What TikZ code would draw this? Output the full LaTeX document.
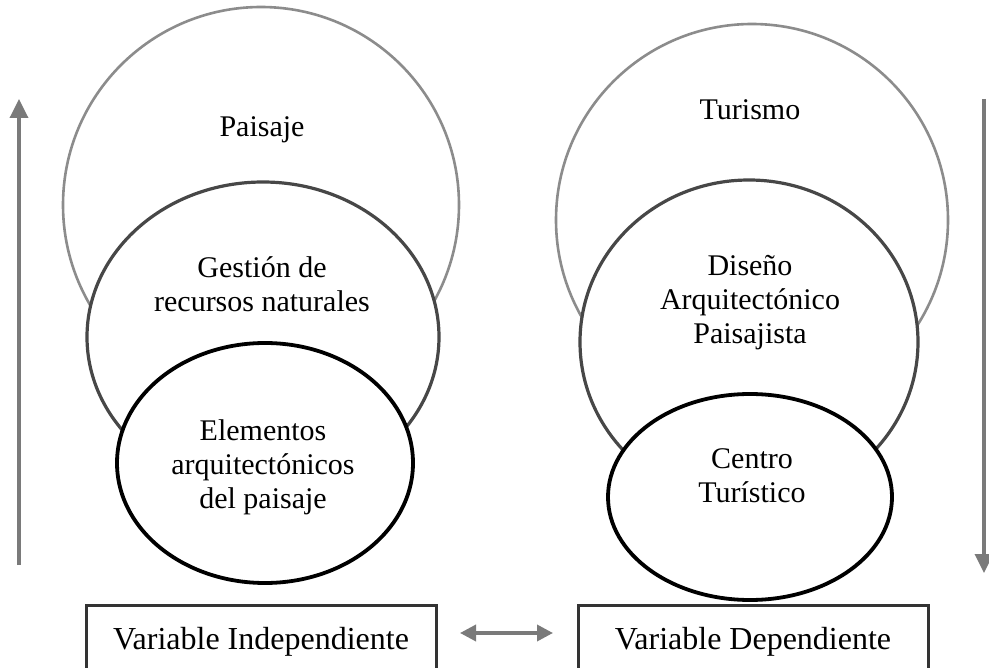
\documentclass[tikz,border=0pt]{standalone}
\usepackage{fontspec}
\setmainfont{Liberation Serif}
\usetikzlibrary{shapes.geometric,arrows.meta,positioning}
\colorlet{gris1}{black!45}
\colorlet{gris2}{black!72}
\colorlet{gris3}{black!52}
\begin{document}
\begin{tikzpicture}[x=1pt, y=-1pt, line width=3pt, >={Triangle[length=19pt,width=18pt]},
  every node/.style={font=\fontsize{30}{34}\selectfont, align=center}]
\tikzstyle{grande}=[circle, draw=gris1, fill=white, line width=2.6pt, inner sep=0pt]
\tikzstyle{medio}=[ellipse, draw=gris2, fill=white, line width=3.2pt, inner sep=0pt]
\tikzstyle{chico}=[ellipse, draw=black, fill=white, line width=3.8pt, inner sep=0pt]
\tikzstyle{caja}=[rectangle, draw=black!80, line width=3pt, minimum width=350pt, minimum height=72pt, anchor=north, font=\fontsize{32}{36}\selectfont]
\tikzstyle{flecha}=[draw=gris3, line width=3.5pt]
\path[use as bounding box, clip] (0,0) rectangle (989,668);
% variable independiente
\node[grande, minimum size=396pt] (paisaje)   at (261,205) {};
\node[medio, minimum width=352pt, minimum height=310pt] (gestion) at (263,337) {};
\node[chico, minimum width=296pt, minimum height=240pt] (elementos) at (265,463) {};
\node (tpaisaje)   at (262,130) {Paisaje};
\node (tgestion)   at (262,284) {Gestión de\\recursos naturales};
\node (telementos) at (263,467) {Elementos\\arquitectónicos\\del paisaje};
% variable dependiente
\node[grande, minimum size=392pt] (turismo)   at (752,220) {};
\node[medio, minimum width=338pt, minimum height=324pt] (diseno) at (749,342) {};
\node[chico, minimum width=284pt, minimum height=206pt] (centro) at (750,497) {};
\node (tturismo) at (750,110) {Turismo};
\node (tdiseno)  at (750,303) {Diseño\\Arquitectónico\\Paisajista};
\node (tcentro)  at (752,476) {Centro\\Turístico};
% cajas
\node[caja] (vi) at (261,604) {Variable Independiente};
\node[caja] (vd) at (753,604) {Variable Dependiente};
% flechas
\coordinate (ia) at (19,565);
\coordinate (ib) at (19,99);
\coordinate (da) at (984,99);
\coordinate (db) at (984,573);
\coordinate (ca) at (460,633);
\coordinate (cb) at (553,633);
\draw[flecha, ->] (ia) -- (ib);
\draw[flecha, ->] (da) -- (db);
\draw[flecha, <->, >={Triangle[length=16pt,width=16pt]}] (ca) -- (cb);
\end{tikzpicture}
\end{document}
